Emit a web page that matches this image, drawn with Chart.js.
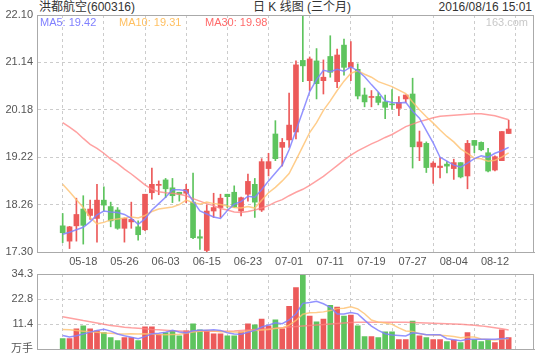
<!DOCTYPE html>
<html>
<head>
<meta charset="utf-8">
<script src="https://cdn.jsdelivr.net/npm/chart.js@4.4.1/dist/chart.umd.min.js"></script>
<style>
  html, body { margin: 0; padding: 0; background: #fff; }
  #wrap { position: relative; width: 540px; height: 360px; overflow: hidden;
          font-family: "Liberation Sans", "Noto Sans CJK SC", sans-serif; }
  canvas { position: absolute; left: 0; }
  .t { position: absolute; top: 0; font-size: 12px; line-height: 15px; color: #333; white-space: nowrap; }
</style>
</head>
<body>
<div id="wrap">
  <div class="t" style="left:39px">洪都航空(600316)</div>
  <div class="t" style="left:253px">日 K 线图 (三个月)</div>
  <div class="t" style="right:8px">2016/08/16 15:01</div>
  <canvas id="price" width="540" height="268" style="top:0"></canvas>
  <canvas id="vol" width="540" height="98" style="top:262px"></canvas>
</div>
<script>
const dates = ["05-13","05-16","05-17","05-18","05-19","05-20","05-23","05-24","05-25","05-26",
  "05-27","05-30","05-31","06-01","06-02","06-03","06-06","06-07","06-08","06-13",
  "06-14","06-15","06-16","06-17","06-20","06-21","06-22","06-23","06-24","06-27",
  "06-28","06-29","06-30","07-01","07-04","07-05","07-06","07-07","07-08","07-11",
  "07-12","07-13","07-14","07-15","07-18","07-19","07-20","07-21","07-22","07-25",
  "07-26","07-27","07-28","07-29","08-01","08-02","08-03","08-04","08-05","08-08",
  "08-09","08-10","08-11","08-12","08-15","08-16"];

const open  = [17.83,17.52,17.83,18.17,18.04,17.98,18.35,18.22,18.15,17.78,
  17.91,17.81,17.75,18.50,18.65,18.76,18.60,18.51,18.49,18.31,
  17.61,17.33,18.13,18.20,18.47,18.51,18.13,18.47,18.67,18.15,
  18.99,19.69,19.42,19.57,19.73,21.18,20.77,21.17,20.77,21.26,
  20.75,21.49,21.04,21.00,20.48,20.43,20.45,20.34,20.30,20.21,
  20.40,20.50,19.43,19.50,19.02,19.01,19.08,18.99,19.11,18.84,
  19.56,19.52,19.31,18.96,19.15,19.70];
const high  = [18.08,17.82,18.39,18.44,18.35,18.67,18.62,18.31,18.20,17.99,
  18.31,17.93,18.47,19.00,18.74,18.79,18.79,18.51,18.67,18.90,
  17.75,18.25,18.49,18.47,18.47,18.64,18.41,18.88,18.79,19.19,
  19.30,19.96,19.60,20.52,21.17,22.08,21.25,21.42,21.19,21.68,
  21.41,21.61,21.56,21.11,20.62,20.57,20.53,20.48,20.59,20.45,
  20.48,20.82,19.75,19.53,19.13,19.21,19.13,19.18,19.11,19.56,
  19.56,19.53,19.40,19.25,19.74,19.97];
const low   = [17.49,17.37,17.52,17.46,17.96,17.50,18.13,17.81,17.76,17.50,
  17.78,17.54,17.73,18.37,18.46,18.40,18.30,18.33,18.30,17.57,
  17.35,17.30,18.00,18.00,18.20,18.20,18.03,18.33,18.00,18.12,
  18.84,19.15,19.04,19.42,19.59,20.75,20.57,20.40,20.50,20.84,
  20.63,20.88,20.77,20.40,20.24,20.24,20.28,20.00,20.19,20.06,
  20.33,19.00,19.15,18.91,18.69,18.80,18.90,18.77,18.80,18.58,
  19.31,19.35,18.92,18.94,19.15,19.70];
const close = [17.69,17.81,18.06,17.84,18.17,18.35,18.25,17.93,17.78,17.98,
  17.96,17.65,18.47,18.67,18.66,18.58,18.44,18.47,18.57,17.59,
  17.58,18.13,18.20,18.39,18.42,18.21,18.40,18.73,18.31,19.13,
  19.13,19.19,19.52,19.87,21.09,21.07,21.21,20.71,20.84,20.94,
  21.29,21.04,21.14,20.46,20.34,20.45,20.33,20.23,20.28,20.33,
  20.48,19.43,19.53,19.01,19.10,19.04,19.04,19.11,18.82,19.50,
  19.46,19.37,18.94,19.23,19.74,19.79];

const ma5  = [17.66,17.70,17.75,17.80,17.91,18.05,18.13,18.11,18.10,18.06,
  17.98,17.86,17.97,18.15,18.28,18.41,18.56,18.56,18.54,18.33,
  18.13,18.07,18.01,17.98,18.14,18.27,18.32,18.43,18.41,18.56,
  18.74,18.90,19.06,19.37,19.76,20.15,20.55,20.79,20.98,20.95,
  21.00,20.96,21.05,20.97,20.85,20.69,20.54,20.36,20.33,20.32,
  20.33,20.15,20.01,19.76,19.51,19.22,19.14,19.06,19.02,19.10,
  19.19,19.25,19.22,19.30,19.35,19.42];
const ma10 = [18.67,18.52,18.36,18.20,18.00,17.87,17.90,17.95,17.97,17.99,
  18.01,17.99,18.04,18.12,18.17,18.19,18.21,18.26,18.35,18.30,
  18.27,18.31,18.28,18.26,18.23,18.20,18.19,18.22,18.19,18.35,
  18.50,18.61,18.74,18.89,19.16,19.44,19.72,19.92,20.17,20.36,
  20.57,20.76,20.92,20.97,20.90,20.84,20.75,20.70,20.65,20.58,
  20.51,20.34,20.18,20.04,19.91,19.77,19.64,19.53,19.39,19.30,
  19.20,19.19,19.14,19.16,19.22,19.31];
const ma30 = [19.92,19.83,19.73,19.60,19.48,19.40,19.30,19.18,19.09,18.98,
  18.88,18.77,18.66,18.57,18.52,18.50,18.49,18.47,18.44,18.38,
  18.33,18.28,18.24,18.18,18.15,18.11,18.10,18.12,18.15,18.19,
  18.24,18.31,18.36,18.44,18.51,18.57,18.65,18.74,18.83,18.94,
  19.05,19.16,19.26,19.35,19.42,19.49,19.55,19.62,19.68,19.76,
  19.84,19.89,19.94,19.98,20.02,20.05,20.06,20.07,20.08,20.09,
  20.10,20.10,20.08,20.06,20.02,19.98];

// volume in 万手
const vol = [4.9,4.9,9.4,10.7,9.4,8.5,7.6,5.4,4.0,5.4,
  5.4,4.0,10.3,10.3,6.8,7.6,8.5,6.2,8.5,11.6,
  8.9,8.5,7.1,7.1,6.2,6.2,8.0,11.6,11.2,13.8,
  10.7,13.4,9.4,19.6,28.1,34.2,15.2,12.5,13.8,20.1,
  19.2,15.2,15.6,10.7,5.8,5.8,5.4,8.0,8.0,4.5,
  4.5,12.9,6.2,5.4,4.5,4.5,3.6,4.2,3.1,7.6,
  4.5,3.6,4.2,3.1,8.9,5.4];
const volMa5 = [6.3,5.6,6.2,7.0,7.86,8.58,9.12,8.32,6.98,6.18,
  5.56,4.84,5.82,7.08,7.36,7.8,8.7,7.88,7.52,8.48,
  8.74,8.74,8.92,8.64,7.56,7.02,6.92,7.82,8.64,10.16,
  11.06,12.14,11.7,13.38,16.24,20.94,21.3,21.92,20.76,19.16,
  16.16,16.16,16.78,16.16,13.3,10.62,8.66,7.14,6.6,6.34,
  6.08,7.58,7.22,6.7,6.7,6.7,4.84,4.44,3.98,4.6,
  4.6,4.6,4.6,4.6,4.86,5.04];
const volMa10 = [9.1,8.9,8.6,8.3,8.0,7.8,7.5,7.3,7.1,7.02,
  7.07,6.98,7.07,7.03,6.77,6.68,6.77,6.85,7.3,7.92,
  8.27,8.72,8.4,8.08,8.02,7.88,7.83,8.37,8.64,8.86,
  9.04,9.53,9.76,11.01,13.2,16.0,16.72,16.81,17.07,17.7,
  18.55,18.73,19.35,18.46,16.23,13.39,12.41,11.96,11.38,9.82,
  8.35,8.12,7.18,6.65,6.52,6.39,6.21,5.83,5.34,5.65,
  5.65,4.72,4.52,4.29,4.73,4.82];
const volMa30 = [14.9,14.3,13.7,13.1,12.6,12.0,11.4,10.9,10.5,10.1,
  9.8,9.6,9.4,9.1,8.9,8.7,8.5,8.4,8.3,8.3,
  8.2,8.2,8.2,8.2,8.3,8.4,8.6,8.8,9.0,9.2,
  9.4,9.6,9.9,10.2,10.4,10.7,10.9,11.1,11.3,11.6,
  11.8,12.0,12.2,12.3,12.4,12.4,12.4,12.4,12.4,12.3,
  12.3,12.2,12.1,12.0,11.9,11.8,11.7,11.6,11.4,11.2,
  11.0,10.7,10.3,9.9,9.4,8.8];

const priceTicks = [17.30, 18.26, 19.22, 20.18, 21.14, 22.10];
const volTicks = [0, 11.4, 22.8, 34.3];
const dateTickIdx = [3, 9, 15, 21, 27, 33, 39, 45, 51, 57, 63];

const UP = "#ec5a5a";
const DOWN = "#5ec45e";
const C5 = "#8080ff", C10 = "#ffc062", C30 = "#ff6a6a";

Chart.defaults.font.family = "'Liberation Sans', 'Noto Sans CJK SC', sans-serif";
Chart.defaults.font.size = 11;
Chart.defaults.color = "#555";

const colors = close.map((c, i) => c >= open[i] ? UP : DOWN);
const pts = arr => arr.map((v, i) => ({x: i, y: v}));

const frame = {
  id: "frame",
  afterDatasetsDraw(chart) {
    const {ctx, chartArea: a} = chart;
    ctx.save();
    ctx.strokeStyle = "#aaa";
    ctx.lineWidth = 1;
    ctx.strokeRect(Math.round(a.left) + 0.5, Math.round(a.top) + 0.5,
      Math.round(a.right - a.left) - 1, Math.round(a.bottom - a.top));
    ctx.restore();
  }
};

const maLegend = {
  id: "maLegend",
  afterDraw(chart) {
    const ctx = chart.ctx;
    const y = chart.chartArea.top + 8;
    ctx.save();
    ctx.font = "11px 'Liberation Sans', sans-serif";
    ctx.textBaseline = "middle";
    ctx.textAlign = "left";
    ctx.fillStyle = C5;
    ctx.fillText("MA5: " + ma5[ma5.length - 1].toFixed(2), 40, y);
    ctx.fillStyle = C10;
    ctx.fillText("MA10: " + ma10[ma10.length - 1].toFixed(2), 119, y);
    ctx.fillStyle = C30;
    ctx.fillText("MA30: " + ma30[ma30.length - 1].toFixed(2), 205, y);
    ctx.fillStyle = "#c8c8c8";
    ctx.textAlign = "right";
    ctx.fillText("163.com", 528, y);
    ctx.restore();
  }
};

function maLine(arr, color) {
  return {
    type: "line", data: pts(arr), borderColor: color, borderWidth: 1.5,
    pointRadius: 0, tension: 0, order: 0
  };
}

const xScale = (showLabels) => ({
  type: "linear", min: -0.45, max: 65.4,
  afterBuildTicks: s => { s.ticks = dateTickIdx.map(v => ({value: v})); },
  afterFit: s => { s.height = showLabels ? 16 : 0; },
  ticks: {display: showLabels, callback: v => dates[v], maxRotation: 0, autoSkip: false, padding: 3},
  grid: {color: "#ccc", drawTicks: false},
  border: {color: "#aaa", dash: [3, 3]}
});

new Chart(document.getElementById("price"), {
  type: "bar",
  data: {
    datasets: [
      maLine(ma5, "rgba(128,128,255,0.85)"),
      maLine(ma10, "rgba(255,192,110,0.8)"),
      maLine(ma30, "rgba(255,130,130,0.75)"),
      {data: low.map((l, i) => ({x: i, y: [l, high[i]]})), backgroundColor: colors,
       barThickness: 1, grouped: false, order: 2},
      {data: open.map((o, i) => ({x: i, y: [o, close[i]]})), backgroundColor: colors,
       barThickness: 5, grouped: false, minBarLength: 1, order: 1}
    ]
  },
  options: {
    responsive: false, animation: false,
    layout: {padding: {top: 15, right: 6, left: 0, bottom: 0}},
    plugins: {legend: {display: false}, tooltip: {enabled: false}},
    scales: {
      x: xScale(true),
      y: {
        min: 17.30, max: 22.10,
        afterBuildTicks: s => { s.ticks = priceTicks.map(v => ({value: v})); },
        afterFit: s => { s.width = 37; },
        ticks: {callback: v => v.toFixed(2), padding: 4},
        grid: {color: "#ccc", drawTicks: false},
        border: {color: "#aaa", dash: [3, 3]}
      }
    }
  },
  plugins: [frame, maLegend]
});

new Chart(document.getElementById("vol"), {
  type: "bar",
  data: {
    datasets: [
      maLine(volMa5, "rgba(128,128,255,0.85)"),
      maLine(volMa10, "rgba(255,192,110,0.8)"),
      maLine(volMa30, "rgba(255,130,130,0.75)"),
      {data: pts(vol), backgroundColor: colors, barThickness: 5, grouped: false, order: 1}
    ]
  },
  options: {
    responsive: false, animation: false,
    layout: {padding: {top: 12, right: 6, left: 0, bottom: 9}},
    plugins: {legend: {display: false}, tooltip: {enabled: false}},
    scales: {
      x: xScale(false),
      y: {
        min: 0, max: 34.3,
        afterBuildTicks: s => { s.ticks = volTicks.map(v => ({value: v})); },
        afterFit: s => { s.width = 37; },
        ticks: {callback: v => v === 0 ? "万手" : v.toFixed(1), padding: 4},
        grid: {color: "#ccc", drawTicks: false},
        border: {color: "#aaa", dash: [3, 3]}
      }
    }
  },
  plugins: [frame]
});
</script>
</body>
</html>
